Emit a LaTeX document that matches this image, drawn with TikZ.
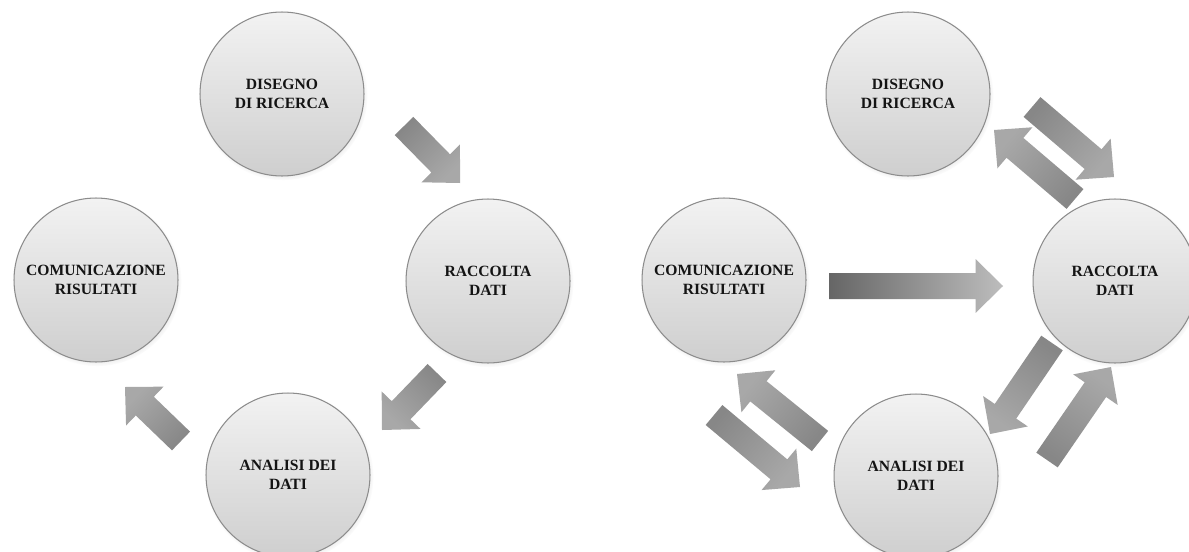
\documentclass[tikz,border=0pt]{standalone}
\usepackage{fontspec}
\setmainfont{Liberation Serif}
\usetikzlibrary{calc,shadows,fadings}

\newcommand{\fasefont}{\fontsize{8.9}{10.9}\selectfont\bfseries}
\def\shaftw{0.26cm}
\def\headw{0.54cm}
\def\headlen{0.55cm}
\newcommand{\blockarrow}[3][]{%
    \pgfmathanglebetweenpoints{\pgfpointanchor{#2}{center}}{\pgfpointanchor{#3}{center}}%
    \pgfmathsetmacro{\arrowang}{\pgfmathresult-90}%
    \coordinate (#2h) at ($(#3)!\headlen!(#2)$);
    \path[arrowfill,#1,shading angle=\arrowang]
        ($(#2)!\shaftw!90:(#3)$) -- ($(#2h)!\shaftw!90:(#3)$) --
        ($(#2h)!\headw!90:(#3)$) -- (#3) --
        ($(#2h)!\headw!-90:(#3)$) -- ($(#2h)!\shaftw!-90:(#3)$) --
        ($(#2)!\shaftw!-90:(#3)$) -- cycle;%
}

\begin{document}
\begin{tikzpicture}[x=0.02cm,y=-0.02cm,
    fase/.style={circle,minimum size=3.28cm,inner sep=0pt,align=center,
        draw=black!45,line width=0.6pt,top color=black!5,bottom color=black!19,
        font=\fasefont,text=black!92,
        circular drop shadow={shadow scale=1.03,shadow xshift=0.6pt,
            shadow yshift=-1pt,opacity=0.3}},
    arrowfill/.style={top color=black!34,bottom color=black!47}]
    \clip (0,0) rectangle (1189,551);
    \fill[white] (0,0) rectangle (1189,551);

    \node[fase] (dis1) at (282,94) {DISEGNO\\DI RICERCA};
    \node[fase] (rac1) at (488,281) {RACCOLTA\\DATI};
    \node[fase] (ana1) at (288,475) {ANALISI DEI\\DATI};
    \node[fase] (com1) at (96,280) {COMUNICAZIONE\\RISULTATI};

    \node[fase] (dis2) at (908,94) {DISEGNO\\DI RICERCA};
    \node[fase] (rac2) at (1115,281) {RACCOLTA\\DATI};
    \node[fase] (ana2) at (916,476) {ANALISI DEI\\DATI};
    \node[fase] (com2) at (724,280) {COMUNICAZIONE\\RISULTATI};

    \coordinate (l1s) at (404,126);  \coordinate (l1e) at (460,183);
    \coordinate (l2s) at (437,373);  \coordinate (l2e) at (382,430);
    \coordinate (l3s) at (181,441);  \coordinate (l3e) at (125,387);
    \blockarrow{l1s}{l1e}
    \blockarrow{l2s}{l2e}
    \blockarrow{l3s}{l3e}

    \coordinate (r1s) at (1032,107); \coordinate (r1e) at (1114,177);
    \coordinate (r2s) at (1075,199); \coordinate (r2e) at (994,130);
    \coordinate (r3s) at (829,286);  \coordinate (r3e) at (1003,286);
    \coordinate (r4s) at (1047,460); \coordinate (r4e) at (1111,367);
    \coordinate (r5s) at (1052,343); \coordinate (r5e) at (990,434);
    \coordinate (r6s) at (820,441);  \coordinate (r6e) at (737,374);
    \coordinate (r7s) at (714,415);  \coordinate (r7e) at (800,487);
    \blockarrow{r1s}{r1e}
    \blockarrow{r2s}{r2e}
    \blockarrow[top color=black!26,bottom color=black!60]{r3s}{r3e}
    \blockarrow{r4s}{r4e}
    \blockarrow{r5s}{r5e}
    \blockarrow{r6s}{r6e}
    \blockarrow{r7s}{r7e}
\end{tikzpicture}
\end{document}
